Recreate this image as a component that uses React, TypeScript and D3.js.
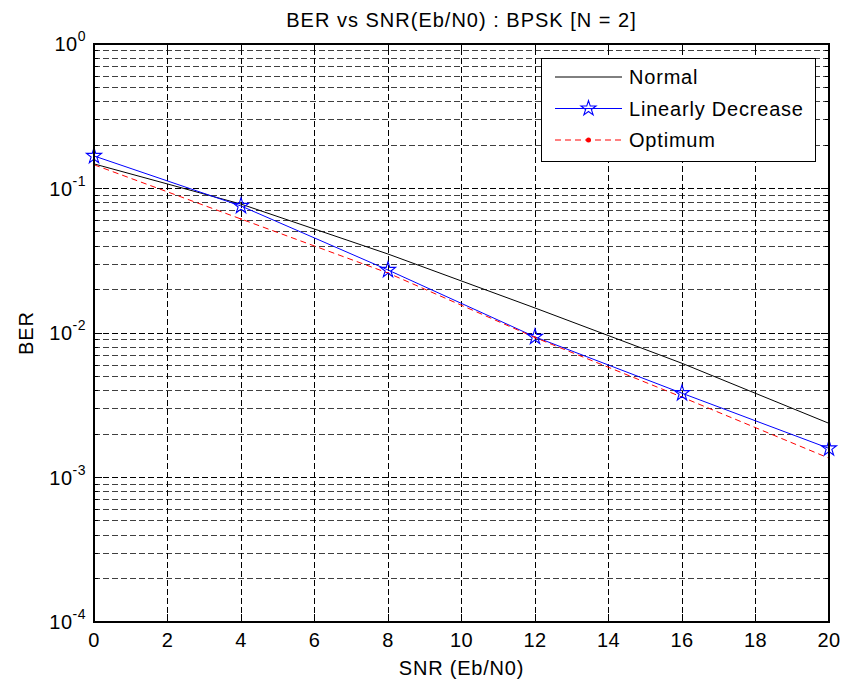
import * as d3 from "d3";

const snr = [0, 4, 8, 12, 16, 20];
const normalBer = [0.148, 0.078, 0.0352, 0.0149, 0.00617, 0.00237];
const linearBer = [0.168, 0.0757, 0.0273, 0.0094, 0.00383, 0.00159];
const optimumBer = [0.146, 0.0615, 0.026, 0.0093, 0.0036, 0.00136];
const xTicks = [0, 2, 4, 6, 8, 10, 12, 14, 16, 18, 20];
const yDecades = [0, -1, -2, -3, -4];

const W = 843;
const H = 682;
const font = "Arial, 'Liberation Sans', Helvetica, sans-serif";

export default function App() {
  let margin = { top: 44, right: 14, bottom: 60, left: 94 };

  let x = d3.scaleLinear().domain([0, 20]).range([margin.left, W - margin.right]);
  let y = d3.scaleLog().domain([1e-4, 1]).range([H - margin.bottom, margin.top]);

  let [x0, x1] = x.range();
  let [y0, y1] = y.range();

  // all log ticks 1..9 per decade
  let minor: number[] = [];
  for (let e = -4; e < 0; e++) {
    for (let m = 2; m <= 9; m++) minor.push(m * Math.pow(10, e));
  }

  let line = d3
    .line<[number, number]>()
    .x((d) => x(d[0]))
    .y((d) => y(d[1]));

  let series = (vals: number[]) => snr.map((s, i) => [s, vals[i]] as [number, number]);
  let star = d3.symbol(d3.symbolStar, 70)() as string;

  let legendRows = [
    { label: "Normal", color: "#000", dash: "none", marker: "none" },
    { label: "Linearly Decrease", color: "#0000ff", dash: "none", marker: "star" },
    { label: "Optimum", color: "#ff0000", dash: "6,4", marker: "dot" },
  ];

  return (
    <div style={{ position: "fixed", left: 0, top: 0, background: "#fff" }}>
      <svg width={W} height={H} viewBox={`0 0 ${W} ${H}`} style={{ display: "block", fontFamily: font }}>
        <rect width={W} height={H} fill="#fff" />

        {/* grid */}
        <g stroke="#000" strokeWidth={1} strokeDasharray="6,3" shapeRendering="crispEdges">
          {xTicks.slice(1, -1).map((t) => (
            <line key={"gx" + t} x1={x(t)} x2={x(t)} y1={y0} y2={y1} />
          ))}
          {yDecades.slice(1, -1).map((e) => (
            <line key={"gy" + e} x1={x0} x2={x1} y1={y(Math.pow(10, e))} y2={y(Math.pow(10, e))} />
          ))}
          {minor.map((v) => (
            <line key={"gm" + v} x1={x0} x2={x1} y1={y(v)} y2={y(v)} strokeOpacity={0.75} />
          ))}
        </g>

        {/* ticks, inward on all sides */}
        <g stroke="#000" strokeWidth={1} shapeRendering="crispEdges">
          {xTicks.map((t) => (
            <g key={"tx" + t}>
              <line x1={x(t)} x2={x(t)} y1={y0} y2={y0 - 8} />
              <line x1={x(t)} x2={x(t)} y1={y1} y2={y1 + 8} />
            </g>
          ))}
          {yDecades.map((e) => (
            <g key={"ty" + e}>
              <line x1={x0} x2={x0 + 8} y1={y(Math.pow(10, e))} y2={y(Math.pow(10, e))} />
              <line x1={x1} x2={x1 - 8} y1={y(Math.pow(10, e))} y2={y(Math.pow(10, e))} />
            </g>
          ))}
          {minor.map((v) => (
            <g key={"tm" + v}>
              <line x1={x0} x2={x0 + 4} y1={y(v)} y2={y(v)} />
              <line x1={x1} x2={x1 - 4} y1={y(v)} y2={y(v)} />
            </g>
          ))}
        </g>

        {/* lines */}
        <path d={line(series(normalBer)) ?? ""} fill="none" stroke="#000" strokeWidth={1} />
        <path d={line(series(linearBer)) ?? ""} fill="none" stroke="#0000ff" strokeWidth={1} />
        <path
          d={line(series(optimumBer)) ?? ""}
          fill="none"
          stroke="#ff0000"
          strokeWidth={1}
          strokeDasharray="6,4"
        />
        {series(optimumBer).map((d) => (
          <circle key={"od" + d[0]} cx={x(d[0])} cy={y(d[1])} r={1} fill="#ff0000" />
        ))}
        {series(linearBer).map((d) => (
          <path
            key={"st" + d[0]}
            d={star}
            transform={`translate(${x(d[0])},${y(d[1])}) scale(1,1.05)`}
            fill="none"
            stroke="#0000ff"
            strokeWidth={1.1}
          />
        ))}

        {/* axes box */}
        <rect
          x={x0}
          y={y1}
          width={x1 - x0}
          height={y0 - y1}
          fill="none"
          stroke="#000"
          strokeWidth={1.3}
          shapeRendering="crispEdges"
        />

        {/* tick labels */}
        <g fontSize={20} fill="#000" letterSpacing={0.5}>
          {xTicks.map((t) => (
            <text key={"lx" + t} x={x(t)} y={y0 + 25} textAnchor="middle">
              {t}
            </text>
          ))}
          {yDecades.map((e) => (
            <text key={"ly" + e} x={x0 - 8} y={y(Math.pow(10, e)) + 7} textAnchor="end">
              10
              <tspan fontSize={14} dy={-10}>
                {e}
              </tspan>
            </text>
          ))}
        </g>

        {/* title & axis labels */}
        <text x={(x0 + x1) / 2} y={27} textAnchor="middle" fontSize={20} letterSpacing={1}>
          BER vs SNR(Eb/N0) : BPSK [N = 2]
        </text>
        <text x={(x0 + x1) / 2} y={675} textAnchor="middle" fontSize={20} letterSpacing={0.8}>
          SNR (Eb/N0)
        </text>
        <text
          transform={`translate(33,${(y0 + y1) / 2}) rotate(-90)`}
          textAnchor="middle"
          fontSize={20}
          letterSpacing={1}
        >
          BER
        </text>

        {/* legend */}
        <g>
          <rect x={541} y={58} width={274} height={103} fill="#fff" stroke="#000" strokeWidth={1} shapeRendering="crispEdges" />
          {legendRows.map((r, i) => {
            let ly = 77 + i * 31.5;
            return (
              <g key={r.label}>
                <line x1={555} x2={622} y1={ly} y2={ly} stroke={r.color} strokeWidth={1} strokeDasharray={r.dash} />
                {r.marker === "star" && (
                  <path d={star} transform={`translate(588.5,${ly})`} fill="none" stroke={r.color} strokeWidth={1.1} />
                )}
                {r.marker === "dot" && <circle cx={588.5} cy={ly} r={2.5} fill={r.color} />}
                <text x={629} y={ly + 7} fontSize={20} letterSpacing={0.8}>
                  {r.label}
                </text>
              </g>
            );
          })}
        </g>
      </svg>
    </div>
  );
}
